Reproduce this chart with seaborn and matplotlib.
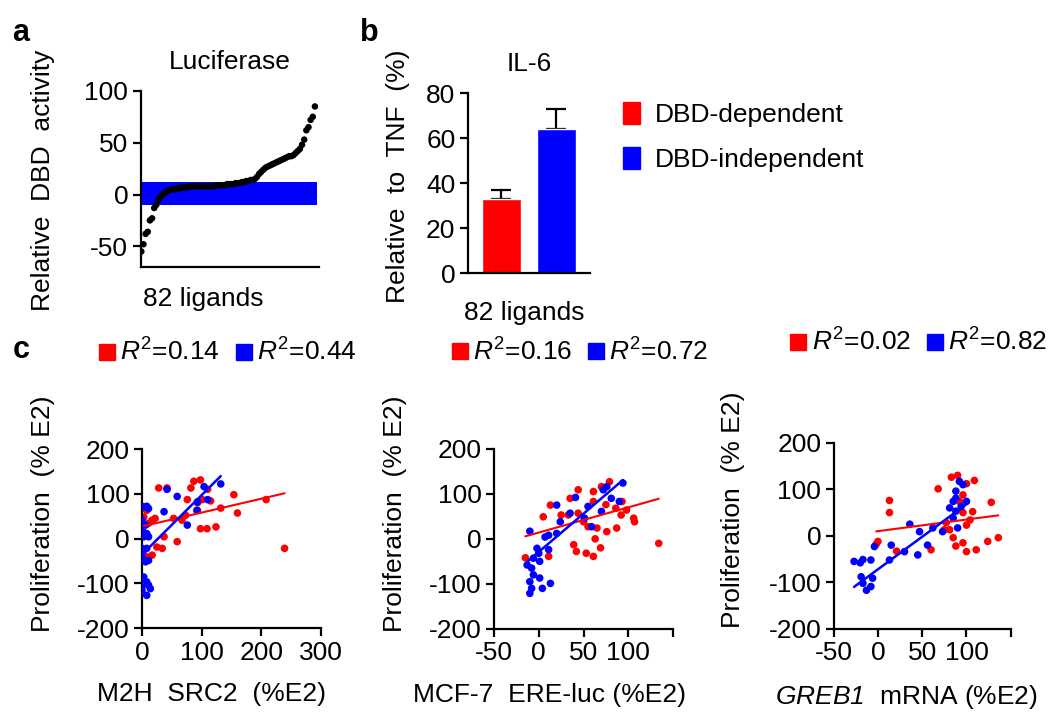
import numpy as np
import pandas as pd
import seaborn as sns
import matplotlib.pyplot as plt
from matplotlib.lines import Line2D
from matplotlib.patches import Patch

RED = '#ff0000'
BLUE = '#0000ff'

# Panel a: luciferase DBD activity for 82 ligands (sorted)
luc_vals = [-55, -48, -38, -36, -25, -23, -13, -10, -5, -2,
            0, 2, 3, 4, 5, 5, 5, 6, 6, 7,
            7, 7, 7, 8, 8, 8, 8, 8, 8, 8,
            8, 8, 8, 8, 8, 9, 9, 9, 9, 9,
            10, 10, 10, 10, 11, 11, 11, 12, 12, 13,
            13, 14, 14, 15, 17, 20, 22, 24, 26, 27,
            28, 29, 30, 31, 32, 33, 34, 35, 36, 37,
            37, 38, 40, 42, 44, 48, 53, 62, 65, 72,
            75, 85]
band_lo, band_hi = -10, 12

# Panel b: IL-6 relative to TNF
groups = ['DBD-dependent', 'DBD-independent']
il6_mean = [33, 64]
il6_err = [4, 9]

# Panel c: proliferation vs. three readouts
src2_red_x = [28, 42, 87, 98, 82, 154, 101, 93, 115, 208, 160, 132, 73, 67, 53, 17, 3, 8, 11, 22,
              98, 109, 124, 59, 25, 34, 37, 8, 17, 239, 93, 76, 110]
src2_red_y = [113, 113, 128, 131, 113, 98, 87, 80, 84, 87, 57, 68, 52, 41, 45, 41, 48, 63, 34, 45,
              22, 22, 26, -7, -19, -22, 4, -41, -37, -22, 63, 87, 110]
src2_blue_x = [3, 8, 11, 42, 37, 59, 76, 93, 104, 110, 132, 92, 0, 6, 2, 8, 3, 11, 0, 3, 8,
               0, 0, 6, 11, 3, 8, 0, 11, 0, 8, 14]
src2_blue_y = [71, 72, 67, 110, 60, 94, 30, 82, 116, 87, 122, 63, 41, 30, 15, 11, 4, 4, -22, -26, -22,
               -41, -49, -52, -49, -86, -97, -108, -104, -116, -127, -112]

ere_red_x = [-15, 13, 5, 25, 33, 44, 35, 44, 61, 70, 79, 61, 75, 86, 93, 50, 55, 65, 76, 87,
             63, 39, 42, 53, 61, 69, 106, 107, 134, 11, 98, 92]
ere_red_y = [-42, 75, 49, 53, 53, 57, 90, 109, 105, 116, 127, 83, 76, 68, 83, 38, 27, 24, 16, 24,
             0, -13, -28, -32, -39, -20, 46, 38, -10, -39, 64, 53]
ere_blue_x = [-10, 7, 11, 20, 35, 24, 20, 41, 51, 55, 59, 70, 72, 76, 81, 90, 94, -2, -6, -13,
              -8, 0, 1, 11, -10, -8, -10, 1, 4, 13, -6]
ere_blue_y = [17, 4, 8, 75, 57, 38, 12, 92, 46, 72, 27, 61, 109, 116, 90, 83, 124, -21, -43, -58,
              -65, -32, -50, -24, -95, -110, -121, -87, -110, -99, -80]

greb_red_x = [13, 13, 68, 83, 90, 109, 128, 100, 0, 21, 60, 77, 81, 85, 88, 100, 96, 111, 124, 136,
              96, 104, 107, 92, 96, 100, 75, -2]
greb_red_y = [76, 50, 101, 126, 130, 119, 72, 112, -12, -33, -30, 28, 13, -4, -22, -34, -15, -30, -12, -4,
              50, 34, 52, 74, 88, 23, 13, -18]
greb_blue_x = [-27, -17, -8, -4, -19, -17, -13, -8, -6, 15, 13, 30, 36, 45, 47, 56, 62, 73, 85, 88,
               92, 96, 88, 85, 90, 81, 94, 100, 88, -20]
greb_blue_y = [-55, -51, -52, -23, -88, -102, -117, -109, -91, -20, -52, -34, 25, -41, 9, -20, 17, 9, 74, 96,
               117, 110, 53, 38, 17, 60, 63, 74, 81, -58]

# linear fits as printed in the figure (slope, intercept)
src2_red_fit, src2_blue_fit = (0.31, 27), (1.33, -36)
ere_red_fit, ere_blue_fit = (0.56, 14), (1.70, -29)
greb_red_fit, greb_blue_fit = (0.25, 10), (1.40, -72)

c_panels = [
    ('M2H  SRC2  (%E2)', src2_red_x, src2_red_y, src2_blue_x, src2_blue_y,
     src2_red_fit, src2_blue_fit, ('0.14', '0.44'), (0, 300), [0, 100, 200, 300]),
    ('MCF-7  ERE-luc (%E2)', ere_red_x, ere_red_y, ere_blue_x, ere_blue_y,
     ere_red_fit, ere_blue_fit, ('0.16', '0.72'), (-50, 150), [-50, 0, 50, 100, 150]),
    (r'$\mathsf{GREB1}$  mRNA (%E2)', greb_red_x, greb_red_y, greb_blue_x, greb_blue_y,
     greb_red_fit, greb_blue_fit, ('0.02', '0.82'), (-50, 150), [-50, 0, 50, 100, 150]),
]

sns.set_style('ticks')
plt.rcParams['font.family'] = ['Liberation Sans', 'DejaVu Sans']
plt.rcParams['mathtext.fontset'] = 'custom'
plt.rcParams['mathtext.rm'] = 'Liberation Sans'
plt.rcParams['mathtext.it'] = 'Liberation Sans:italic'
plt.rcParams['mathtext.sf'] = 'Liberation Sans:italic'  # used for the italic gene name
plt.rcParams['axes.unicode_minus'] = False
plt.rcParams['axes.linewidth'] = 1.6
plt.rcParams['xtick.major.width'] = 1.6
plt.rcParams['ytick.major.width'] = 1.6
plt.rcParams['xtick.major.size'] = 6
plt.rcParams['ytick.major.size'] = 6
plt.rcParams['xtick.color'] = 'black'
plt.rcParams['ytick.color'] = 'black'
plt.rcParams['axes.edgecolor'] = 'black'
plt.rcParams['text.color'] = 'black'
plt.rcParams['axes.labelcolor'] = 'black'

fig = plt.figure(figsize=(10.5, 7.13), dpi=100)


def style_axis(ax):
    sns.despine(ax=ax)
    ax.tick_params(labelsize=19, pad=3)


def fit_line(ax, xs, fit, color, lw):
    xr = np.linspace(min(xs), max(xs), 2)
    sns.lineplot(x=xr, y=fit[0] * xr + fit[1], color=color, lw=lw, ax=ax, zorder=5)


# ---- panel a ----
ax_a = fig.add_axes([0.134, 0.6255, 0.170, 0.247])
ax_a.axhspan(band_lo, band_hi, xmin=0, xmax=0.985, color=BLUE, lw=0, zorder=1)
sns.scatterplot(x=np.arange(len(luc_vals)), y=luc_vals, marker='o', color='black', s=22,
                edgecolor='none', ax=ax_a, zorder=3)
ax_a.set_ylim(-70, 100)
ax_a.set_xlim(-0.3, 83)
ax_a.set_yticks([-50, 0, 50, 100])
ax_a.set_xticks([])
ax_a.set_title('Luciferase', fontsize=19, pad=16)
ax_a.set_ylabel('Relative  DBD  activity', fontsize=19)
ax_a.set_xlabel('82 ligands', fontsize=19)
ax_a.yaxis.set_label_coords(-0.48, 0.49)
ax_a.xaxis.set_label_coords(0.35, -0.115)
style_axis(ax_a)

# ---- panel b ----
ax_b = fig.add_axes([0.4457, 0.617, 0.116, 0.2525])
bar_df = pd.DataFrame({'group': groups, 'value': il6_mean})
sns.barplot(data=bar_df, x='group', y='value', hue='group', palette=[RED, BLUE],
            width=0.71, legend=False, ax=ax_b, saturation=1)
ax_b.errorbar(np.arange(len(groups)), il6_mean, yerr=[[0] * len(groups), il6_err],
              fmt='none', ecolor='black', elinewidth=1.6, capsize=7, capthick=1.6, zorder=0)
ax_b.set_ylim(0, 80)
ax_b.set_xlim(-0.61, 1.61)
ax_b.set_yticks([0, 20, 40, 60, 80])
ax_b.set_xticks([])
ax_b.set_title('IL-6', fontsize=19, pad=16)
ax_b.set_ylabel('Relative  to  TNF  (%)', fontsize=19)
ax_b.set_xlabel('82 ligands', fontsize=19)
ax_b.yaxis.set_label_coords(-0.475, 0.54)
ax_b.xaxis.set_label_coords(0.46, -0.155)
style_axis(ax_b)

fig.legend(handles=[Patch(color=RED, label=groups[0]), Patch(color=BLUE, label=groups[1])],
           loc='upper left', bbox_to_anchor=(0.571, 0.89), frameon=False, fontsize=19,
           handlelength=0.65, handleheight=0.9, handletextpad=0.55, labelspacing=0.75)

# ---- panel c ----
c_pos = [[0.1352, 0.1192, 0.1705, 0.251],
         [0.4705, 0.118, 0.1705, 0.2525],
         [0.794, 0.118, 0.1686, 0.261]]
xl_coords = [(0.39, -0.30), (0.31, -0.30), (0.41, -0.29)]
yl_coords = [-0.486, -0.486, -0.50]
for pos, xlc, ylx, (xlab, rx, ry, bx, by, rfit, bfit, r2, xlim, xticks) in zip(c_pos, xl_coords, yl_coords, c_panels):
    ax = fig.add_axes(pos)
    sns.scatterplot(x=rx, y=ry, color=RED, s=30, edgecolor='none', ax=ax, zorder=2)
    sns.scatterplot(x=bx, y=by, color=BLUE, s=30, edgecolor='none', ax=ax, zorder=3)
    fit_line(ax, rx, rfit, RED, 1.5)
    fit_line(ax, bx, bfit, BLUE, 1.8)
    ax.set_xlim(*xlim)
    ax.set_ylim(-200, 200)
    ax.set_xticks(xticks)
    ax.set_xticklabels([str(t) if t != 150 else '' for t in xticks])
    ax.set_yticks([-200, -100, 0, 100, 200])
    ax.set_xlabel(xlab, fontsize=19)
    ax.set_ylabel('Proliferation  (% E2)', fontsize=19)
    ax.xaxis.set_label_coords(*xlc)
    ax.yaxis.set_label_coords(ylx, 0.64)
    style_axis(ax)
    handles = [Line2D([], [], marker='s', ls='', color=RED, markersize=11, label='$R^2$=' + r2[0]),
               Line2D([], [], marker='s', ls='', color=BLUE, markersize=11, label='$R^2$=' + r2[1])]
    ax.legend(handles=handles, ncol=2, loc='center', bbox_to_anchor=(0.48, 1.54), frameon=False,
              fontsize=19, handlelength=0.6, handletextpad=0.2, columnspacing=0.6)

fig.text(0.012, 0.975, 'a', fontsize=22, fontweight='bold', va='top')
fig.text(0.343, 0.975, 'b', fontsize=22, fontweight='bold', va='top')
fig.text(0.012, 0.53, 'c', fontsize=22, fontweight='bold', va='top')

fig.savefig('out.png', dpi=100)
